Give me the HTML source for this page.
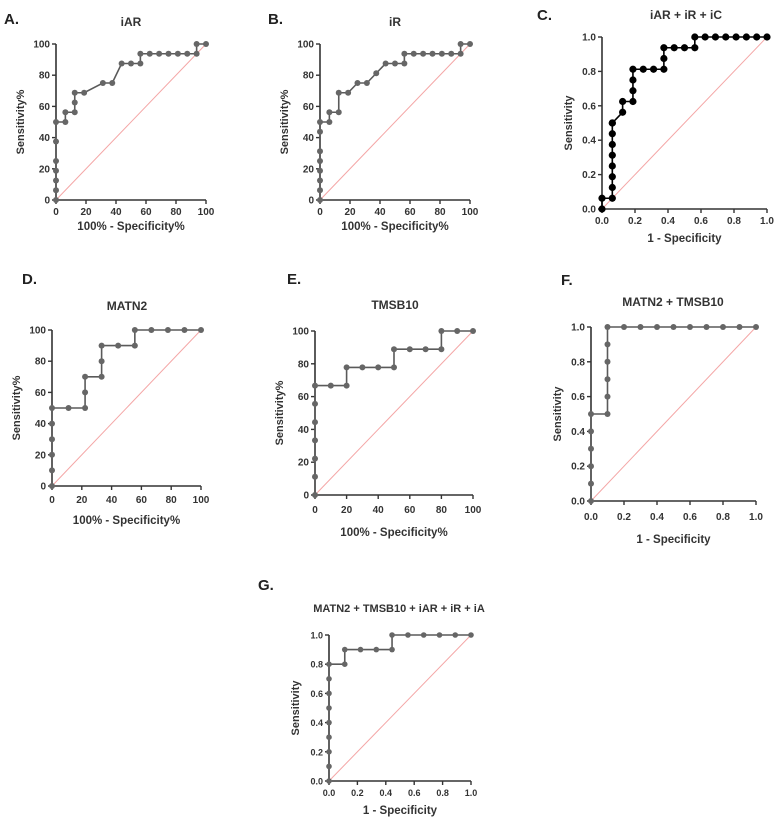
<!DOCTYPE html>
<html><head><meta charset="utf-8"><style>
body{margin:0;background:#fff}
svg{display:block;font-family:"Liberation Sans",Arial,sans-serif;font-weight:bold}
</style></head><body>
<svg id="fig" width="778" height="823" viewBox="0 0 778 823"></svg>
<script>
const aX=[0,0,0,0,0,0,0,6.25,6.25,12.5,12.5,12.5,18.75,31.25,37.5,43.75,50,56.25,56.25,62.5,68.75,75,81.25,87.5,93.75,93.75,100];
const aY=[0,6.25,12.5,18.75,25,37.5,50,50,56.25,56.25,62.5,68.75,68.75,75,75,87.5,87.5,87.5,93.75,93.75,93.75,93.75,93.75,93.75,93.75,100,100];
const bX=[0,0,0,0,0,0,0,0,6.25,6.25,12.5,12.5,18.75,25,31.25,37.5,43.75,50,56.25,56.25,62.5,68.75,75,81.25,87.5,93.75,93.75,100];
const bY=[0,6.25,12.5,18.75,25,31.25,43.75,50,50,56.25,56.25,68.75,68.75,75,75,81.25,87.5,87.5,87.5,93.75,93.75,93.75,93.75,93.75,93.75,93.75,100,100];
const cX=[0,0,0.0625,0.0625,0.0625,0.0625,0.0625,0.0625,0.0625,0.0625,0.0625,0.125,0.125,0.1875,0.1875,0.1875,0.1875,0.25,0.3125,0.375,0.375,0.375,0.4375,0.5,0.5625,0.5625,0.625,0.6875,0.75,0.8125,0.875,0.9375,1];
const cY=[0,0.0625,0.0625,0.125,0.1875,0.25,0.3125,0.375,0.4375,0.5,0.5,0.5625,0.625,0.625,0.6875,0.75,0.8125,0.8125,0.8125,0.8125,0.875,0.9375,0.9375,0.9375,0.9375,1,1,1,1,1,1,1,1];
const dX=[0,0,0,0,0,0,11.1,22.2,22.2,22.2,33.3,33.3,33.3,44.4,55.6,55.6,66.7,77.8,88.9,100];
const dY=[0,10,20,30,40,50,50,50,60,70,70,80,90,90,90,100,100,100,100,100];
const eX=[0,0,0,0,0,0,0,10,20,20,30,40,50,50,60,70,80,80,90,100];
const eY=[0,11.1,22.2,33.3,44.4,55.6,66.7,66.7,66.7,77.8,77.8,77.8,77.8,88.9,88.9,88.9,88.9,100,100,100];
const fX=[0,0,0,0,0,0,0.1,0.1,0.1,0.1,0.1,0.1,0.2,0.3,0.4,0.5,0.6,0.7,0.8,0.9,1];
const fY=[0,0.1,0.2,0.3,0.4,0.5,0.5,0.6,0.7,0.8,0.9,1,1,1,1,1,1,1,1,1,1];
const gX=[0,0,0,0,0,0,0,0,0,0.111,0.111,0.222,0.333,0.444,0.444,0.556,0.667,0.778,0.889,1];
const gY=[0,0.1,0.2,0.3,0.4,0.5,0.6,0.7,0.8,0.8,0.9,0.9,0.9,0.9,1,1,1,1,1,1];
const pctTicks=[0,20,40,60,80,100];
const fracTicks=[0,0.2,0.4,0.6,0.8,1.0];

const panels=[
 {id:'a',letter:'A.',title:'iAR',lx:4,ly:24,tx:131,ty:26,x0:56,x1:206,y0:200,y1:44,max:100,ticks:pctTicks,xs:aX,ys:aY,yl:'Sensitivity%',xl:'100% - Specificity%',col:'#5a5a5a',r:3,tk:15,xo:30},
 {id:'b',letter:'B.',title:'iR',lx:268,ly:24,tx:395,ty:26,x0:320,x1:470,y0:200,y1:44,max:100,ticks:pctTicks,xs:bX,ys:bY,yl:'Sensitivity%',xl:'100% - Specificity%',col:'#5a5a5a',r:3,tk:15,xo:30},
 {id:'c',letter:'C.',title:'iAR + iR + iC',lx:537,ly:20,tx:686,ty:19,x0:602,x1:767,y0:209,y1:37,max:1,ticks:fracTicks,xs:cX,ys:cY,yl:'Sensitivity',xl:'1 - Specificity',col:'#000',r:3.6,tk:15,xo:33},
 {id:'d',letter:'D.',title:'MATN2',lx:22,ly:284,tx:127,ty:310,x0:52,x1:201,y0:486,y1:330,max:100,ticks:pctTicks,xs:dX,ys:dY,yl:'Sensitivity%',xl:'100% - Specificity%',col:'#5a5a5a',r:3,tk:17,xo:38},
 {id:'e',letter:'E.',title:'TMSB10',lx:287,ly:284,tx:395,ty:309,x0:315,x1:473,y0:495,y1:331,max:100,ticks:pctTicks,xs:eX,ys:eY,yl:'Sensitivity%',xl:'100% - Specificity%',col:'#5a5a5a',r:3,tk:18,xo:41},
 {id:'f',letter:'F.',title:'MATN2 + TMSB10',lx:561,ly:285,tx:673,ty:306,x0:591,x1:756,y0:501,y1:327,max:1,ticks:fracTicks,xs:fX,ys:fY,yl:'Sensitivity',xl:'1 - Specificity',col:'#5a5a5a',r:3,tk:19,xo:42},
 {id:'g',letter:'G.',title:'MATN2 + TMSB10 + iAR + iR + iA',lx:258,ly:590,tx:399,ty:612,x0:329,x1:471,y0:781,y1:635,max:1,ticks:fracTicks,xs:gX,ys:gY,yl:'Sensitivity',xl:'1 - Specificity',col:'#5a5a5a',r:2.8,tk:15,xo:33}
];
const NS='http://www.w3.org/2000/svg';
const svg=document.getElementById('fig');
function mk(tag,at,parent,txt){const e=document.createElementNS(NS,tag);for(const k in at)e.setAttribute(k,at[k]);if(txt!==undefined)e.textContent=txt;(parent||svg).appendChild(e);return e;}
panels.forEach(p=>{
 const g=mk('g',{});
 
 
 const sx=v=>p.x0+(v/p.max)*(p.x1-p.x0);
 const sy=v=>p.y0+(v/p.max)*(p.y1-p.y0);
 const fmt=v=>p.max===1?v.toFixed(1):String(v);
 const L=mk('text',{x:p.lx,y:p.ly,'font-size':15,fill:'#222'},g,p.letter);
 
 const T=mk('text',{x:p.tx,y:p.ty,'font-size':p.id==='g'?11:12,'text-anchor':'middle',fill:'#333'},g,p.title);
 
 const dg=mk('line',{x1:sx(0),y1:sy(0),x2:sx(p.max),y2:sy(p.max),stroke:'#f4a6a6','stroke-width':1},g);
 
 const ax=mk('path',{d:`M${p.x0},${p.y1}V${p.y0}H${p.x1}`,stroke:'#333','stroke-width':1.6,fill:'none'},g);
 
 const fs=p.id==='g'?9:10;
 p.ticks.forEach(v=>{
  mk('line',{x1:p.x0-4,x2:p.x0,y1:sy(v),y2:sy(v),stroke:'#333','stroke-width':1.4},g);
  mk('line',{x1:sx(v),x2:sx(v),y1:p.y0,y2:p.y0+4,stroke:'#333','stroke-width':1.4},g);
  const yt=mk('text',{x:p.x0-6,y:sy(v)+3.5,'font-size':fs,'text-anchor':'end',fill:'#333'},g,fmt(v));
  
  const xt=mk('text',{x:sx(v),y:p.y0+p.tk,'font-size':fs,'text-anchor':'middle',fill:'#333'},g,fmt(v));
  
 });
 const cy=(p.y0+p.y1)/2, ylx=p.x0-(p.max===1?30:32);
 const yl=mk('text',{x:ylx,y:cy,'font-size':11,'text-anchor':'middle',fill:'#333',transform:`rotate(-90 ${ylx} ${cy})`},g,p.yl);
 
 const xl=mk('text',{x:(p.x0+p.x1)/2,y:p.y0+p.xo,'font-size':11.5,'text-anchor':'middle',fill:'#333'},g,p.xl);
 
 const d=p.xs.map((x,i)=>(i?'L':'M')+sx(x)+','+sy(p.ys[i])).join('');
 const ln=mk('path',{d:d,stroke:p.col,'stroke-width':1.6,fill:'none'},g);
 
 p.xs.forEach((x,i)=>{
  const c=mk('circle',{cx:sx(x),cy:sy(p.ys[i]),r:p.r,fill:p.col==='#000'?'#000':'#666'},g);
  
  
 });
});
</script>
</body></html>
